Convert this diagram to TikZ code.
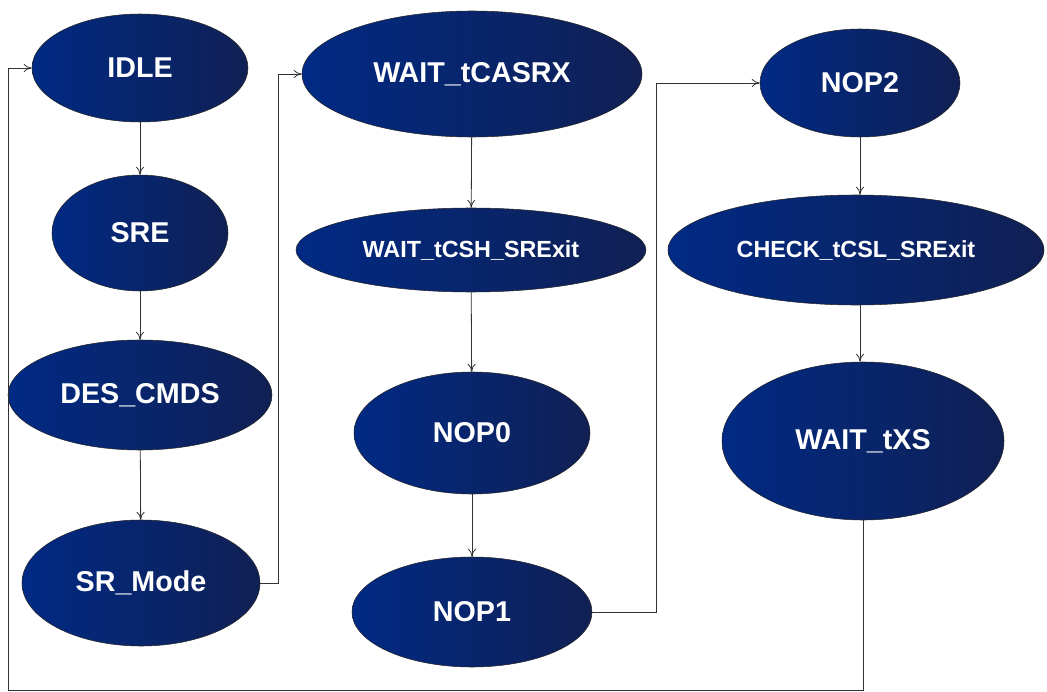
\documentclass[tikz,border=0pt]{standalone}
\usepackage{fontspec}
\setmainfont{Liberation Sans}
\usetikzlibrary{shapes.geometric,arrows.meta}
\definecolor{stleft}{RGB}{0,42,132}
\definecolor{stright}{RGB}{16,32,84}
\definecolor{wire}{RGB}{50,50,50}
\begin{document}
\begin{tikzpicture}%
	[x=0.75pt, y=-0.75pt,
	state/.style 2 args={ellipse, inner sep=0pt, draw=black!85, thin,
		left color=stleft, right color=stright, text=white,
		minimum width=#1*0.75pt, minimum height=#2*0.75pt},
	bigname/.style={font=\bfseries\fontsize{21.5}{24}\selectfont},
	smallname/.style={font=\bfseries\fontsize{17.5}{20}\selectfont},
	wire/.style={color=wire, semithick, -{To[length=6pt,width=6pt]}}]
	\useasboundingbox (0,0) rectangle (1047,692);

	%first column
	\node[state={216}{108}, bigname] (idle) at (140,68) {IDLE};
	\node[state={176}{116}, bigname] (sre) at (140,233) {SRE};
	\node[state={264}{110}, bigname] (descmds) at (140,395) {DES\_CMDS};
	\node[state={238}{126}, bigname] (srmode) at (141,583) {SR\_Mode};

	%second column
	\node[state={340}{126}, bigname] (tcasrx) at (472,74) {WAIT\_tCASRX};
	\node[state={350}{84}, smallname] (tcsh) at (471,250) {WAIT\_tCSH\_SRExit};
	\node[state={236}{122}, bigname] (nop0) at (472,433) {NOP0};
	\node[state={240}{110}, bigname] (nop1) at (472,612) {NOP1};

	%third column
	\node[state={200}{108}, bigname] (nop2) at (860,83) {NOP2};
	\node[state={376}{110}, smallname] (tcsl) at (856,250) {CHECK\_tCSL\_SRExit};
	\node[state={282}{158}, bigname] (wtxs) at (863,441) {WAIT\_tXS};
	\coordinate (lowleft) at (8,690);

	\draw[wire] (idle) -- (sre);
	\draw[wire] (sre) -- (descmds);
	\draw[wire] (descmds) -- (srmode);
	\draw[wire] (srmode.east) -- ++(18,0) |- (tcasrx.west);
	\draw[wire] (tcasrx) -- (tcsh);
	\draw[wire] (tcsh) -- (nop0);
	\draw[wire] (nop0) -- (nop1);
	\draw[wire] (nop1.east) -- ++(64,0) |- (nop2.west);
	\draw[wire] (nop2.south) -- (nop2.south |- tcsl.north);
	\draw[wire] (tcsl.south -| nop2.south) -- (wtxs.north -| nop2.south);
	\draw[wire] (wtxs.south) |- (lowleft) |- (idle.west);
\end{tikzpicture}
\end{document}
